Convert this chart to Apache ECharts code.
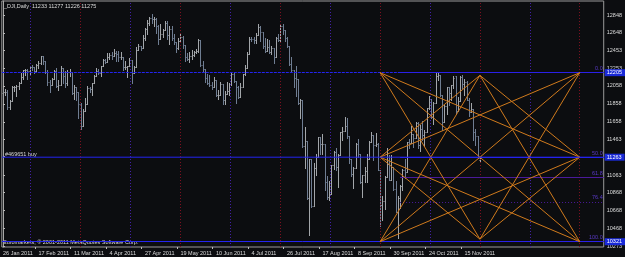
<!DOCTYPE html>
<html><head><meta charset="utf-8">
<script src="https://cdn.jsdelivr.net/npm/echarts@6/dist/echarts.min.js"></script>
<style>html,body{margin:0;padding:0;background:#0c0d10;}#c{width:625px;height:257px;}</style>
</head><body><div id="c"></div>
<script>
// ---- data (bar index 0 = 26 Jan 2011, one bar per trading day) ----
const dates = ['01-26','01-27','01-28','01-31',
'02-01','02-02','02-03','02-04','02-07','02-08','02-09','02-10','02-11','02-14','02-15','02-16','02-17','02-18','02-21','02-22','02-23','02-24','02-25','02-28',
'03-01','03-02','03-03','03-04','03-07','03-08','03-09','03-10','03-11','03-14','03-15','03-16','03-17','03-18','03-21','03-22','03-23','03-24','03-25','03-28','03-29','03-30','03-31',
'04-01','04-04','04-05','04-06','04-07','04-08','04-11','04-12','04-13','04-14','04-15','04-18','04-19','04-20','04-21','04-25','04-26','04-27','04-28','04-29',
'05-02','05-03','05-04','05-05','05-06','05-09','05-10','05-11','05-12','05-13','05-16','05-17','05-18','05-19','05-20','05-23','05-24','05-25','05-26','05-27','05-30','05-31',
'06-01','06-02','06-03','06-06','06-07','06-08','06-09','06-10','06-13','06-14','06-15','06-16','06-17','06-20','06-21','06-22','06-23','06-24','06-27','06-28','06-29','06-30',
'07-01','07-04','07-05','07-06','07-07','07-08','07-11','07-12','07-13','07-14','07-15','07-18','07-19','07-20','07-21','07-22','07-25','07-26','07-27','07-28','07-29',
'08-01','08-02','08-03','08-04','08-05','08-08','08-09','08-10','08-11','08-12','08-15','08-16','08-17','08-18','08-19','08-22','08-23','08-24','08-25','08-26','08-29','08-30','08-31',
'09-01','09-02','09-05','09-06','09-07','09-08','09-09','09-12','09-13','09-14','09-15','09-16','09-19','09-20','09-21','09-22','09-23','09-26','09-27','09-28','09-29','09-30',
'10-03','10-04','10-05','10-06','10-07','10-10','10-11','10-12','10-13','10-14','10-17','10-18','10-19','10-20','10-21','10-24','10-25','10-26','10-27','10-28','10-31',
'11-01','11-02','11-03','11-04','11-07','11-08','11-09','11-10','11-11','11-14','11-15','11-16','11-17','11-18','11-21','11-22','11-23','11-24'];

const opens = [11977,11985,11989,11824,
11892,12040,12041,12062,12092,12161,12234,12240,12229,12273,12268,12226,12288,12318,12391,12330,12213,12106,12068,12130,
12226,12058,12066,12258,12170,12090,12214,12214,11984,12044,11993,11855,11613,11775,11858,12037,12018,12087,12171,12221,12198,12280,12350,
12320,12377,12401,12394,12426,12409,12380,12381,12263,12270,12285,12341,12202,12266,12453,12506,12480,12595,12690,12763,
12811,12807,12808,12724,12585,12638,12684,12760,12630,12695,12596,12548,12479,12560,12605,12512,12381,12356,12394,12402,12441,12450,
12570,12290,12248,12151,12089,12070,12049,12124,11952,11953,12076,11898,11962,12004,12081,12191,12110,12050,11934,12043,12188,12262,
12414,12582,12580,12570,12626,12719,12657,12505,12447,12492,12437,12480,12385,12588,12572,12724,12681,12593,12502,12303,12240,
12143,12132,11866,11896,11384,11445,10810,11240,10720,11144,11270,11483,11406,11411,10991,10818,10855,11177,11321,11150,11285,11540,11560,
11614,11494,11240,11080,11140,11415,11296,10992,11062,11106,11247,11434,11510,11401,11408,11125,10734,10771,11044,11191,11011,11154,
10913,10655,10809,10940,11123,11103,11433,11416,11519,11478,11644,11397,11577,11505,11542,11809,11913,11707,11869,12170,12180,
11955,11658,11836,12044,11983,12068,12170,11780,11893,12153,12079,12096,11906,11771,11796,11548,11494,11233];

const highs = [12020,12019,12011,11902,
12054,12055,12070,12098,12201,12240,12250,12245,12285,12290,12272,12305,12330,12391,12395,12340,12230,12120,12150,12240,
12262,12120,12283,12260,12220,12230,12250,12214,12070,12044,11993,11870,11800,11925,12060,12040,12090,12180,12260,12250,12285,12360,12360,
12420,12420,12430,12470,12450,12450,12440,12381,12330,12285,12370,12341,12280,12490,12520,12506,12620,12700,12790,12830,
12860,12830,12810,12740,12750,12690,12780,12780,12720,12730,12640,12550,12590,12640,12610,12512,12420,12440,12460,12450,12470,12580,
12570,12340,12250,12190,12180,12100,12160,12124,12010,12100,12076,12000,12100,12090,12200,12200,12110,12060,12090,12190,12290,12430,
12600,12600,12600,12650,12750,12720,12657,12590,12580,12570,12500,12480,12600,12640,12750,12750,12681,12600,12502,12380,12240,
12280,12132,11910,11900,11600,11445,11240,11240,11200,11300,11490,11483,11520,11411,11050,11000,11180,11330,11370,11300,11540,11600,11710,
11700,11494,11240,11150,11420,11470,11296,11070,11150,11300,11440,11540,11510,11530,11420,11125,10830,11050,11360,11290,11290,11154,
11000,10830,10950,11130,11240,11433,11470,11610,11519,11650,11650,11620,11670,11570,11810,11940,11913,11880,12200,12205,12180,
11955,11840,12050,12044,12070,12170,12170,11930,12170,12180,12130,12110,11920,11870,11796,11580,11494,11277];

const lows = [11935,11953,11803,11800,
11892,12005,11945,12020,12092,12135,12180,12130,12180,12240,12200,12226,12260,12300,12300,12200,12070,11985,12068,12130,
12040,12010,12066,12090,12050,12070,12170,11970,11910,11900,11700,11580,11613,11775,11858,11990,11960,12087,12171,12190,12170,12280,12310,
12320,12360,12360,12394,12330,12340,12360,12230,12250,12160,12285,12090,12200,12266,12453,12460,12480,12570,12640,12740,
12760,12730,12650,12530,12585,12600,12684,12580,12520,12570,12520,12430,12470,12550,12480,12330,12350,12320,12360,12390,12420,12440,
12280,12210,12100,12080,12060,12020,12049,11940,11910,11953,11860,11860,11962,11960,12070,12100,11870,11920,11930,12040,12180,12262,
12410,12560,12540,12540,12626,12560,12480,12440,12447,12420,12410,12310,12385,12560,12560,12640,12560,12490,12290,12220,12050,
11940,11860,11700,11380,11140,10800,10400,10710,10720,11060,11270,11300,11300,10900,10800,10790,10855,11130,11120,10930,11285,11450,11560,
11480,11200,11050,10920,11140,11270,10980,10820,10990,10990,11247,11430,11230,11390,11120,10500,10560,10690,11044,11010,11011,10900,
10650,10360,10700,10900,11030,11103,11370,11416,11380,11478,11370,11330,11460,11390,11542,11800,11700,11630,11869,12120,11950,
11570,11658,11740,11850,11900,12030,11740,11780,11893,12030,11960,11900,11720,11770,11460,11400,11250,11226];

const closes = [11985,11989,11824,11892,
12040,12041,12062,12092,12161,12234,12240,12229,12273,12268,12226,12288,12318,12391,12330,12213,12106,12068,12130,12226,
12058,12066,12258,12170,12090,12214,12214,11984,12044,11993,11855,11613,11775,11858,12037,12018,12087,12171,12221,12198,12280,12350,12320,
12377,12401,12394,12426,12409,12380,12381,12263,12270,12285,12341,12202,12266,12453,12506,12480,12595,12690,12763,12811,
12807,12808,12724,12585,12638,12684,12760,12630,12695,12596,12548,12479,12560,12605,12512,12381,12356,12394,12402,12441,12450,12570,
12290,12248,12151,12089,12070,12049,12124,11952,11953,12076,11898,11962,12004,12081,12191,12110,12050,11934,12043,12188,12262,12414,
12582,12580,12570,12626,12719,12657,12505,12447,12492,12437,12480,12385,12588,12572,12724,12681,12593,12502,12303,12240,12143,
12132,11866,11896,11384,11445,10810,11240,10720,11144,11270,11483,11406,11411,10991,10818,10855,11177,11321,11150,11285,11540,11560,11614,
11494,11240,11080,11140,11415,11296,10992,11062,11106,11247,11434,11510,11401,11408,11125,10734,10771,11044,11191,11011,11154,10913,
10655,10809,10940,11123,11103,11433,11416,11519,11478,11644,11397,11577,11505,11542,11809,11913,11707,11869,12170,12180,11955,
11658,11836,12044,11983,12068,12150,11780,11893,12153,12079,12096,11906,11771,11796,11548,11494,11258,11275];

const xTickIndex  = [0,16,32,48,64,80,96,112,128,144,160,176,192,208];
const xTickLabels = ['26 Jan 2011','17 Feb 2011','11 Mar 2011','4 Apr 2011','27 Apr 2011','19 May 2011','10 Jun 2011','4 Jul 2011','26 Jul 2011','17 Aug 2011','8 Sep 2011','30 Sep 2011','24 Oct 2011','15 Nov 2011'];
const yTickValues = [12848,12648,12453,12253,12058,11858,11658,11463,11268,11063,10868,10668,10468,10273];

// horizontal price lines (full width)
const hLinePrices = [12205, 10321];
const buyPrice = 11263;
const tagPrices = [12205, 11263, 10321];
const tagTexts  = ['12205','11263','10321'];
const buyLabel = '#469651 buy';
// fibonacci levels (anchored at bar 179)
const fibStart = 179;
const fibLevels = [0.0, 50.0, 61.8, 76.4, 100.0];
const fibPrices = [12205, 11263, 11041, 10765, 10321];
// time cycle lines (bar index)
const redCycle    = [35, 80, 125, 170, 215, 260];
const purpleCycle = [12.5, 57.5, 102.5, 147.5, 192.5, 237.5];
// star pattern nodes
const starX   = [170, 215, 260];
const starTop = [12205, 12175, 12205];
const starMid = [11263, 11263, 11263];
const starBot = [10321, 10350, 10321];

const header = '_DJI,Daily  11233 11277 11226 11275';
const copyright = 'Euromarkets, \u00A9 2001-2011 MetaQuotes Software Corp.';

// ---- chart ----
const X_MIN = -0.54, X_MAX = 270.8, Y_MIN = 10262, Y_MAX = 13004;
const FONT = 'Liberation Sans, Arial, sans-serif';
const upColor = '#a3a6aa', downColor = '#6f7d92';
const BLUE = '#2424f0';

const ohlc = opens.map((o, i) => [i, o, highs[i], lows[i], closes[i]]);

const N = {
  A:[starX[0],starTop[0]], B:[starX[1],starTop[1]], C:[starX[2],starTop[2]],
  D:[starX[0],starMid[0]], E:[starX[1],starMid[1]], F:[starX[2],starMid[2]],
  G:[starX[0],starBot[0]], H:[starX[1],starBot[1]], I:[starX[2],starBot[2]]
};
const starPairs = ['AI','CG','AF','AH','CD','CH','GB','GF','IB','ID','BD','BF','HD','HF'];
const starLines = starPairs.map(p => [{coord:N[p[0]]},{coord:N[p[1]]}]);

const blueTypes = [[3,1], 'solid'];
const hLines = hLinePrices.map((v, i) => ({
  yAxis: v, label:{show:false},
  lineStyle: {color: BLUE, width:1, type: blueTypes[i], opacity:1}
}));
const tagLines = tagPrices.map((v, i) => ({
  yAxis: v,
  lineStyle: {color:'rgba(0,0,0,0)', width:1},
  label: {show:true, position:'end', formatter: tagTexts[i], color:'#ffffff', backgroundColor:'#1a2ad8',
          fontSize:5.5, fontFamily:FONT, padding:[1,3,0,2], distance:1}
}));

const fibLines = fibLevels.map((lv, i) => [
  {coord:[fibStart, fibPrices[i]], lineStyle:{color: (i===0||i===1||i===4) ? '#2a20e8' : '#4a1a9a', width:1, type: (i===3) ? [1,2] : 'solid'},
   label:{show:true, position:'insideEndTop', formatter: lv.toFixed(1), color:'#5a3ac8', fontSize:5.5, fontFamily:FONT, distance:1}},
  {coord:[X_MAX, fibPrices[i]]}
]);

const vLines = redCycle.map(v => ({xAxis:v, lineStyle:{color:'#7c1020', width:1, type:[1,2]}}))
  .concat(purpleCycle.map(v => ({xAxis:v, lineStyle:{color:'#4420a8', width:1, type:[1,2]}})));

const host = (z, ml) => ({type:'line', data:[[0, 11000]], showSymbol:false, silent:true, z:z, lineStyle:{opacity:0},
  markLine: Object.assign({silent:true, symbol:'none', animation:false}, ml)});

const chart = echarts.init(document.getElementById('c'), null, {renderer:'canvas'});
chart.setOption({
  animation:false,
  backgroundColor:'#0c0d10',
  grid:{left:1, right:21, top:1, bottom:10, show:true, borderColor:'#9a9a9a', borderWidth:1, backgroundColor:'transparent'},
  xAxis:{type:'value', min:X_MIN, max:X_MAX,
    axisLine:{show:false}, splitLine:{show:false},
    axisTick:{show:true, customValues: xTickIndex.map(v => v - 1.6), length:2, lineStyle:{color:'#bbbbbb'}},
    axisLabel:{customValues: xTickIndex, formatter: v => xTickLabels[xTickIndex.indexOf(v)] || '',
      color:'#dcdcdc', fontSize:5.5, fontFamily:FONT, align:'left', margin:3, hideOverlap:false}
  },
  yAxis:{type:'value', position:'right', min:Y_MIN, max:Y_MAX, scale:true,
    axisLine:{show:true, lineStyle:{color:'#a8a8a8'}}, splitLine:{show:false},
    axisTick:{show:true, customValues: yTickValues, length:2, lineStyle:{color:'#bbbbbb'}},
    axisLabel:{customValues: yTickValues, formatter: v => String(v), color:'#dcdcdc', fontSize:5.5, fontFamily:FONT, margin:3}
  },
  graphic:[
    {type:'text', left:4, top:3, style:{text:header, fill:'#dcdcdc', font:'5.5px ' + FONT}},
    {type:'text', left:5, top:151, style:{text:buyLabel, fill:'#d8d8d8', font:'5.5px ' + FONT}},
    {type:'text', left:3, top:239, style:{text:copyright, fill:'#dcdcdc', font:'5.5px ' + FONT}}
  ],
  series:[
    host(1, {label:{show:false}, data: vLines}),
    {type:'custom', z:3, data: ohlc, encode:{x:0, y:[1,2,3,4]}, clip:true,
     renderItem(params, api){
       const i = api.value(0), o = api.value(1), h = api.value(2), l = api.value(3), c = api.value(4);
       const ph = api.coord([i,h]), pl = api.coord([i,l]), po = api.coord([i,o]), pc = api.coord([i,c]);
       const x = Math.round(ph[0]) + 0.5;
       const col = c >= o ? upColor : downColor;
       const yo = Math.round(po[1]) + 0.5, yc = Math.round(pc[1]) + 0.5;
       return {type:'group', children:[
         {type:'line', shape:{x1:x, y1:Math.round(ph[1]), x2:x, y2:Math.round(pl[1]) + 1}, style:{stroke:col, lineWidth:1}},
         {type:'line', shape:{x1:x - 1, y1:yo, x2:x, y2:yo}, style:{stroke:col, lineWidth:1}},
         {type:'line', shape:{x1:x, y1:yc, x2:x + 1, y2:yc}, style:{stroke:col, lineWidth:1}}
       ]};
     }},
    host(4, {label:{show:false}, data: hLines}),
    host(5, {data: fibLines}),
    host(6, {label:{show:false}, lineStyle:{color:'#d07a1c', width:1, type:'solid'}, data: starLines}),
    host(7, {data: tagLines}),
    {type:'line', z:8, silent:true, showSymbol:false, symbol:'none', clip:true,
     data:[[X_MIN, buyPrice], [X_MAX, buyPrice]],
     lineStyle:{color:BLUE, width:1, type:'solid'}, itemStyle:{color:BLUE}}
  ]
});
</script>
</body></html>
